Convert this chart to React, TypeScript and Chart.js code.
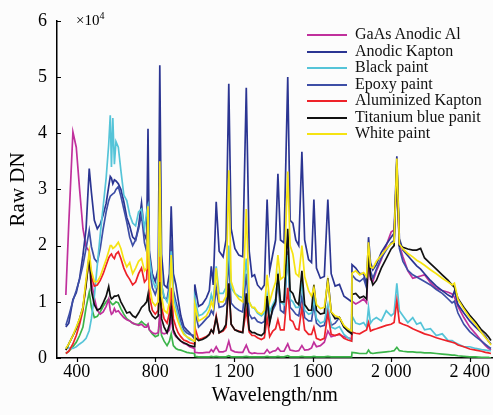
import React, { useEffect, useRef } from 'react';
import { Chart, registerables } from 'chart.js';

Chart.register(...registerables);

// Wavelength grid (nm): 340-999 (Si detector), 1001-1799, 1801-2508
const wavelength = [
  345, 360, 381, 398, 415, 432, 448, 464, 475, 490,
  505, 520, 535, 550, 563, 571, 577, 584, 592, 600,
  612, 625, 640, 655, 670, 685, 700, 715, 730, 745,
  756, 763, 770, 785, 800, 815, 823, 832, 845, 860,
  872, 881, 892, 905, 916, 930, 945, 960, 975, 999,
  1001, 1020, 1040, 1060, 1075, 1085, 1095, 1110, 1125, 1145,
  1160, 1174, 1186, 1205, 1225, 1245, 1263, 1278, 1292, 1305,
  1320, 1340, 1355, 1369, 1382, 1398, 1412, 1424, 1437, 1455,
  1474, 1486, 1500, 1515, 1530, 1546, 1560, 1580, 1595, 1607,
  1620, 1640, 1660, 1678, 1695, 1715, 1737, 1760, 1780, 1799,
  1801, 1820, 1840, 1860, 1875, 1885, 1895, 1907, 1925, 1950,
  1975, 2000, 2015, 2029, 2042, 2060, 2085, 2110, 2130, 2150,
  2170, 2200, 2230, 2260, 2290, 2310, 2322, 2340, 2370, 2400,
  2430, 2460, 2480, 2495, 2508,
];

// Raw DN values in units of 10^4
const gaasAnodicAl = [
  1.12, 2.4, 4.02, 3.75, 3.0, 2.3, 1.98, 1.9, 1.35, 1.07,
  0.85, 0.78, 0.82, 0.92, 1.05, 0.85, 0.78, 0.8, 0.88, 0.82,
  0.84, 0.78, 0.72, 0.68, 0.66, 0.62, 0.6, 0.58, 0.6, 0.55,
  0.55, 0.6, 0.5, 0.45, 0.43, 0.45, 0.78, 0.45, 0.43, 0.45,
  0.5, 0.72, 0.45, 0.38, 0.35, 0.3, 0.26, 0.24, 0.2, 0.17,
  0.1, 0.09, 0.09, 0.1, 0.1, 0.15, 0.11, 0.2, 0.11, 0.11,
  0.13, 0.3, 0.14, 0.11, 0.1, 0.1, 0.23, 0.1, 0.08, 0.09,
  0.08, 0.08, 0.08, 0.15, 0.09, 0.12, 0.13, 0.18, 0.12, 0.12,
  0.25, 0.14, 0.13, 0.12, 0.13, 0.22, 0.14, 0.15, 0.18, 0.28,
  0.2, 0.22, 0.28, 0.48, 0.38, 0.4, 0.42, 0.38, 0.36, 0.34,
  1.01, 0.96, 1.0, 1.05, 0.98, 1.75, 1.4, 1.36, 1.55, 1.75,
  2.0, 2.24, 2.28, 3.1, 2.0, 1.8, 1.55, 1.42, 1.44, 1.46,
  1.48, 1.34, 1.24, 1.2, 1.17, 1.14, 1.08, 0.92, 0.72, 0.55,
  0.43, 0.3, 0.22, 0.17, 0.14,
];

const anodicKapton = [
  0.55, 0.62, 1.04, 1.16, 1.42, 1.83, 2.3, 3.37, 2.95, 2.45,
  2.3, 2.38, 2.55, 2.75, 3.05, 3.23, 3.2, 3.1, 3.17, 3.15,
  3.1, 3.0, 2.78, 2.5, 2.35, 2.15, 2.1, 2.35, 2.76, 2.2,
  2.1, 4.08, 1.9, 1.5, 1.36, 1.6, 5.21, 1.85, 1.3, 1.25,
  1.5, 2.7, 1.5, 1.3, 1.05, 0.75, 0.56, 0.5, 0.45, 0.35,
  1.31, 0.92, 0.96, 1.07, 1.2, 1.63, 1.3, 2.78, 1.9, 1.8,
  2.1, 4.88, 2.3, 1.95, 1.83, 1.8, 4.81, 1.9, 1.45, 1.48,
  1.3, 1.22, 1.3, 2.82, 1.55, 1.85, 2.1, 3.28, 2.1, 2.05,
  5.0, 2.45, 2.4, 2.1, 2.0, 3.67, 2.1, 1.75, 1.7, 2.82,
  1.6, 1.42, 1.45, 2.82, 1.5, 1.28, 1.31, 1.1, 1.05, 1.0,
  1.66, 1.6, 1.5, 1.5, 1.3, 2.15, 1.7, 1.57, 1.66, 1.88,
  2.02, 2.15, 2.22, 3.59, 2.12, 1.92, 1.82, 1.72, 1.64, 1.58,
  1.5, 1.38, 1.28, 1.2, 1.12, 1.08, 1.19, 0.95, 0.8, 0.66,
  0.55, 0.45, 0.38, 0.3, 0.25,
];

const blackPaint = [
  0.2, 0.18, 0.17, 0.2, 0.25, 0.29, 0.35, 0.49, 0.7, 1.1,
  1.65, 2.2, 2.7, 3.2, 3.8, 4.32, 3.4, 4.27, 3.45, 3.85,
  3.75, 3.34, 2.9, 2.8, 2.55, 2.4, 2.35, 2.6, 2.65, 2.3,
  2.6, 2.7, 1.8, 1.4, 1.25, 1.4, 2.6, 1.3, 1.1, 1.0,
  1.2, 1.9, 1.1, 0.9, 0.75, 0.55, 0.45, 0.38, 0.33, 0.3,
  1.07, 0.75, 0.78, 0.85, 0.95, 1.13, 1.0, 1.63, 1.15, 1.15,
  1.25, 2.0, 1.25, 1.15, 1.1, 1.07, 1.77, 1.0, 0.9, 0.88,
  0.8, 0.75, 0.8, 1.13, 0.82, 0.95, 1.05, 1.45, 1.0, 0.95,
  1.83, 1.05, 1.0, 0.9, 0.9, 1.33, 0.85, 0.78, 0.8, 1.05,
  0.7, 0.62, 0.65, 0.95, 0.55, 0.52, 0.56, 0.42, 0.36, 0.31,
  0.75, 0.62, 0.6, 0.63, 0.55, 0.9, 0.62, 0.68, 0.72, 0.66,
  0.84, 0.75, 0.8, 1.33, 0.84, 0.75, 0.63, 0.72, 0.6, 0.63,
  0.5, 0.52, 0.4, 0.43, 0.31, 0.31, 0.28, 0.25, 0.2, 0.2,
  0.17, 0.15, 0.14, 0.13, 0.13,
];

const epoxyPaint = [
  0.58, 0.75, 1.02, 1.2, 1.4, 1.65, 1.95, 2.27, 1.98, 1.77,
  1.7, 1.95, 2.3, 2.6, 2.8, 2.88, 2.9, 2.92, 2.94, 3.0,
  3.05, 2.88, 2.65, 2.42, 2.15, 2.0, 2.1, 2.3, 2.55, 2.05,
  1.9, 2.3, 1.6, 1.25, 1.13, 1.3, 3.0, 1.3, 1.07, 1.05,
  1.3, 2.1, 1.2, 1.0, 0.85, 0.65, 0.5, 0.45, 0.42, 0.4,
  0.84, 0.55, 0.62, 0.7, 0.75, 0.84, 0.78, 1.25, 0.9, 0.92,
  0.98, 1.75, 0.98, 0.9, 0.85, 0.82, 1.5, 0.78, 0.7, 0.72,
  0.65, 0.62, 0.65, 0.96, 0.66, 0.85, 0.95, 1.39, 0.85, 0.8,
  1.9, 0.9, 0.85, 0.78, 0.75, 1.1, 0.72, 0.66, 0.66, 0.95,
  0.62, 0.56, 0.58, 0.85, 0.58, 0.62, 0.72, 0.55, 0.5, 0.47,
  1.48, 1.4, 1.36, 1.42, 1.25, 2.0, 1.55, 1.42, 1.58, 1.78,
  1.92, 2.05, 2.09, 3.5, 1.95, 1.72, 1.56, 1.48, 1.44, 1.4,
  1.36, 1.3, 1.22, 1.15, 1.05, 0.98, 1.01, 0.8, 0.6, 0.47,
  0.38, 0.3, 0.24, 0.2, 0.17,
];

const aluminizedKapton = [
  0.08, 0.12, 0.25, 0.4, 0.6, 0.85, 1.35, 1.77, 1.45, 1.28,
  1.3, 1.38, 1.5, 1.65, 1.78, 1.83, 1.85, 1.8, 1.77, 1.85,
  1.89, 1.77, 1.6, 1.48, 1.4, 1.3, 1.35, 1.5, 1.6, 1.35,
  1.4, 2.0, 1.1, 0.85, 0.78, 0.85, 1.8, 0.9, 0.7, 0.62,
  0.8, 1.25, 0.7, 0.55, 0.45, 0.38, 0.32, 0.3, 0.27, 0.25,
  0.55, 0.33, 0.35, 0.38, 0.42, 0.5, 0.45, 0.75, 0.45, 0.48,
  0.55, 1.31, 0.6, 0.5, 0.48, 0.46, 0.85, 0.46, 0.4, 0.4,
  0.36, 0.33, 0.36, 0.72, 0.38, 0.48, 0.52, 0.68, 0.5, 0.5,
  1.25, 0.68, 0.65, 0.52, 0.5, 0.9, 0.5, 0.42, 0.42, 0.55,
  0.35, 0.32, 0.35, 0.8, 0.42, 0.4, 0.43, 0.35, 0.32, 0.3,
  0.46, 0.44, 0.43, 0.47, 0.5, 0.63, 0.48, 0.5, 0.52, 0.55,
  0.58, 0.6, 0.63, 1.02, 0.63, 0.6, 0.57, 0.52, 0.49, 0.46,
  0.43, 0.4, 0.36, 0.33, 0.3, 0.28, 0.27, 0.23, 0.2, 0.16,
  0.14, 0.12, 0.1, 0.09, 0.08,
];

const titaniumBluePanit = [
  0.14, 0.25, 0.4, 0.52, 0.7, 0.9, 1.3, 1.83, 1.2, 0.95,
  0.85, 0.88, 0.98, 1.1, 1.27, 1.1, 1.05, 1.07, 1.1, 1.1,
  1.12, 1.0, 0.9, 0.8, 0.82, 0.75, 0.72, 0.8, 0.9, 0.95,
  1.0, 1.13, 0.85, 0.75, 0.7, 0.75, 1.35, 0.7, 0.55, 0.45,
  0.6, 0.9, 0.5, 0.4, 0.35, 0.3, 0.27, 0.25, 0.22, 0.2,
  0.37, 0.31, 0.33, 0.37, 0.42, 0.5, 0.45, 0.72, 0.45, 0.5,
  0.6, 1.33, 0.6, 0.5, 0.47, 0.45, 1.15, 0.5, 0.45, 0.45,
  0.42, 0.4, 0.45, 1.1, 0.62, 0.9, 1.0, 1.5, 1.0, 1.0,
  2.3, 1.2, 1.15, 1.0, 0.95, 1.55, 0.95, 0.85, 0.85, 1.3,
  0.85, 0.78, 0.8, 1.42, 0.82, 0.7, 0.72, 0.55, 0.48, 0.43,
  1.13, 1.15, 1.07, 1.1, 1.05, 1.89, 1.45, 1.3, 1.38, 1.6,
  1.77, 1.94, 2.0, 3.46, 2.0, 1.97, 1.94, 1.92, 1.92, 1.95,
  1.78, 1.68, 1.58, 1.48, 1.38, 1.3, 1.26, 1.06, 0.9, 0.76,
  0.64, 0.5, 0.44, 0.38, 0.31,
];

const whitePaint = [
  0.17, 0.25, 0.4, 0.55, 0.7, 0.9, 1.4, 1.89, 1.55, 1.36,
  1.36, 1.45, 1.6, 1.75, 1.9, 2.0, 2.0, 1.95, 1.97, 2.0,
  2.06, 1.95, 1.75, 1.62, 1.7, 1.5, 1.6, 1.72, 1.77, 1.55,
  1.6, 2.7, 1.3, 1.0, 0.93, 1.0, 3.5, 1.1, 0.85, 0.8,
  1.0, 1.83, 0.95, 0.78, 0.65, 0.52, 0.42, 0.38, 0.35, 0.3,
  0.96, 0.66, 0.7, 0.75, 0.85, 1.0, 0.9, 1.6, 1.0, 1.0,
  1.1, 3.34, 1.36, 1.15, 1.05, 1.0, 2.65, 1.0, 0.9, 0.9,
  0.82, 0.78, 0.85, 1.48, 1.0, 1.2, 1.35, 1.83, 1.4, 1.45,
  3.32, 2.0, 1.85, 1.5, 1.45, 2.0, 1.45, 1.2, 1.1, 1.25,
  0.95, 0.88, 0.9, 1.36, 0.82, 0.75, 0.72, 0.58, 0.52, 0.48,
  1.51, 1.55, 1.48, 1.52, 1.45, 2.06, 1.62, 1.6, 1.72, 1.83,
  1.94, 2.03, 2.06, 3.55, 2.03, 1.94, 1.86, 1.8, 1.74, 1.7,
  1.65, 1.57, 1.5, 1.42, 1.35, 1.3, 1.33, 1.04, 0.87, 0.72,
  0.6, 0.45, 0.36, 0.3, 0.23,
];

// Unlabelled green curve (not in the legend)
const greenCurve = [
  0.08, 0.12, 0.2, 0.28, 0.4, 0.55, 0.9, 1.17, 0.9, 0.72,
  0.74, 0.82, 0.92, 1.0, 1.05, 1.0, 0.97, 0.95, 0.97, 1.0,
  0.98, 0.88, 0.78, 0.7, 0.66, 0.62, 0.6, 0.6, 0.65, 0.6,
  0.58, 0.6, 0.5, 0.43, 0.38, 0.4, 0.72, 0.4, 0.3, 0.22,
  0.3, 0.43, 0.22, 0.17, 0.15, 0.14, 0.12, 0.1, 0.09, 0.08,
  0.03, 0.02, 0.02, 0.02, 0.02, 0.03, 0.02, 0.03, 0.02, 0.02,
  0.02, 0.04, 0.02, 0.02, 0.02, 0.02, 0.03, 0.02, 0.02, 0.02,
  0.02, 0.02, 0.02, 0.03, 0.02, 0.02, 0.02, 0.03, 0.02, 0.02,
  0.04, 0.02, 0.02, 0.02, 0.02, 0.03, 0.02, 0.02, 0.02, 0.03,
  0.02, 0.02, 0.02, 0.03, 0.02, 0.02, 0.02, 0.02, 0.02, 0.02,
  0.1, 0.09, 0.08, 0.08, 0.08, 0.14, 0.09, 0.08, 0.09, 0.1,
  0.11, 0.12, 0.13, 0.19, 0.13, 0.12, 0.11, 0.11, 0.1, 0.1,
  0.09, 0.09, 0.08, 0.07, 0.06, 0.05, 0.05, 0.04, 0.03, 0.02,
  0.02, 0.01, 0.01, 0.01, 0.0,
];

const xTickValues = [400, 800, 1200, 1600, 2000, 2400];
const xTickLabels = ['400', '800', '1 200', '1 600', '2 000', '2 400'];
const yTickValues = [0, 1, 2, 3, 4, 5, 6];
const yTickLabels = ['0', '1', '2', '3', '4', '5', '6'];

const SERIF = '"Liberation Serif", "Times New Roman", serif';

type Series = { label: string; values: number[]; color: string; order: number; legend: boolean };

const series: Series[] = [
  { label: 'GaAs Anodic Al', values: gaasAnodicAl, color: '#c0309c', order: 6, legend: true },
  { label: 'Anodic Kapton', values: anodicKapton, color: '#2b3592', order: 5, legend: true },
  { label: 'Black paint', values: blackPaint, color: '#55c4d8', order: 3, legend: true },
  { label: 'Epoxy paint', values: epoxyPaint, color: '#3d4ea6', order: 4, legend: true },
  { label: 'Aluminized Kapton', values: aluminizedKapton, color: '#ee2229', order: 2, legend: true },
  { label: 'Titanium blue panit', values: titaniumBluePanit, color: '#111111', order: 1, legend: true },
  { label: 'White paint', values: whitePaint, color: '#f5e312', order: 0, legend: true },
  { label: '', values: greenCurve, color: '#3bb44a', order: 7, legend: false },
];

const tickMarks = {
  id: 'tickMarks',
  afterDraw(chart: any) {
    const { ctx, chartArea, scales } = chart;
    const x = scales.x;
    const y = scales.y;
    ctx.save();
    ctx.strokeStyle = '#000';
    ctx.lineWidth = 1.2;
    ctx.beginPath();
    for (const v of yTickValues) {
      const py = Math.round(y.getPixelForValue(v)) + 0.5;
      ctx.moveTo(chartArea.left, py);
      ctx.lineTo(chartArea.left + 4, py);
    }
    for (const v of xTickValues) {
      const px = Math.round(x.getPixelForValue(v)) + 0.5;
      ctx.moveTo(px, chartArea.bottom);
      ctx.lineTo(px, chartArea.bottom + 4);
    }
    ctx.stroke();
    ctx.restore();
  },
};

export default function App() {
  const canvasRef = useRef<HTMLCanvasElement | null>(null);

  useEffect(() => {
    if (!canvasRef.current) return;
    const datasets = series.map((s) => ({
      label: s.label,
      data: wavelength.map((w, i) => ({ x: w, y: s.values[i] })),
      borderColor: s.color,
      backgroundColor: s.color,
      borderWidth: 1.7,
      pointRadius: 0,
      tension: 0,
      fill: false,
      order: s.order,
    }));
    const chart = new Chart(canvasRef.current, {
      type: 'line',
      data: { datasets },
      options: {
        responsive: false,
        animation: false,
        layout: { padding: { top: 15, right: 0, left: 0, bottom: 0 } },
        plugins: { legend: { display: false }, tooltip: { enabled: false } },
        scales: {
          x: {
            type: 'linear',
            min: 300,
            max: 2515,
            grid: { display: false, drawTicks: false },
            border: { display: true, color: '#000', width: 1.5 },
            afterBuildTicks: (s: any) => {
              s.ticks = xTickValues.map((v) => ({ value: v }));
            },
            afterFit: (s: any) => {
              s.height = 57;
            },
            ticks: {
              autoSkip: false,
              maxRotation: 0,
              color: '#000',
              padding: 3,
              font: { family: SERIF, size: 18 },
              callback: (v: any) => {
                const i = xTickValues.indexOf(Number(v));
                return i >= 0 ? xTickLabels[i] : '';
              },
            },
            title: {
              display: true,
              text: 'Wavelength/nm',
              color: '#000',
              font: { family: SERIF, size: 20 },
              padding: { top: 0, bottom: 7 },
            },
          },
          y: {
            type: 'linear',
            min: 0,
            max: 6,
            grid: { display: false, drawTicks: false },
            border: { display: true, color: '#000', width: 1.5 },
            afterBuildTicks: (s: any) => {
              s.ticks = yTickValues.map((v) => ({ value: v }));
            },
            afterFit: (s: any) => {
              s.width = 57;
            },
            ticks: {
              color: '#000',
              padding: 10,
              font: { family: SERIF, size: 18 },
              callback: (v: any) => {
                const i = yTickValues.indexOf(Number(v));
                return i >= 0 ? yTickLabels[i] : '';
              },
            },
            title: {
              display: true,
              text: 'Raw DN',
              color: '#000',
              font: { family: SERIF, size: 21 },
              padding: { top: 6, bottom: 0 },
            },
          },
        },
      },
      plugins: [tickMarks],
    } as any);
    return () => chart.destroy();
  }, []);

  const legendItems = series.filter((s) => s.legend);

  return (
    <div
      style={{
        position: 'fixed',
        left: 0,
        top: 0,
        width: 493,
        height: 415,
        background: '#fcfcfc',
        overflow: 'hidden',
      }}
    >
      <canvas ref={canvasRef} width={493} height={415} style={{ display: 'block', width: 493, height: 415 }} />
      <div
        style={{
          position: 'absolute',
          left: 76,
          top: 13,
          fontFamily: SERIF,
          fontSize: 15,
          lineHeight: '15px',
          color: '#000',
          whiteSpace: 'nowrap',
        }}
      >
        ×10<span style={{ fontSize: 10, position: 'relative', top: -6 }}>4</span>
      </div>
      {legendItems.map((s, i) => (
        <React.Fragment key={s.label}>
          <div
            style={{
              position: 'absolute',
              left: 307,
              top: 34 + 16.5 * i,
              width: 40,
              height: 2,
              background: s.color,
            }}
          />
          <div
            style={{
              position: 'absolute',
              left: 355,
              top: 25 + 16.5 * i,
              fontFamily: SERIF,
              fontSize: 16,
              lineHeight: '17px',
              color: '#111',
              whiteSpace: 'nowrap',
            }}
          >
            {s.label}
          </div>
        </React.Fragment>
      ))}
    </div>
  );
}
